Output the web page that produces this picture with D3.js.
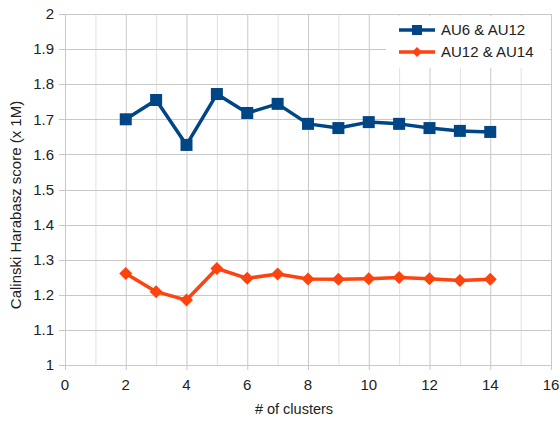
<!DOCTYPE html>
<html><head><meta charset="utf-8">
<script src="https://cdn.jsdelivr.net/npm/d3@7"></script>
<style>body{margin:0;background:#fff;}svg{display:block;font-family:"Liberation Sans",Arial,sans-serif;}</style>
</head><body>
<svg id="c" width="560" height="421"></svg>
<script>
const clusters = [2,3,4,5,6,7,8,9,10,11,12,13,14];
const au6au12 = [1.700,1.755,1.627,1.772,1.718,1.744,1.687,1.675,1.692,1.687,1.675,1.667,1.664];
const au12au14 = [1.261,1.209,1.185,1.275,1.247,1.259,1.245,1.244,1.246,1.249,1.246,1.241,1.244];
const seriesNames = ["AU6 & AU12","AU12 & AU14"];
const xTicks = [0,2,4,6,8,10,12,14,16];
const yTicks = [1,1.1,1.2,1.3,1.4,1.5,1.6,1.7,1.8,1.9,2];

const svg = d3.select("#c");
const L=65, R=551, T=14, B=365;
const x = d3.scaleLinear().domain([0,16]).range([L,R]);
const y = d3.scaleLinear().domain([1,2]).range([B,T]);

const g = svg.append("g");
g.selectAll(".vmin").data(d3.range(1,16,2)).enter().append("line")
 .attr("x1",d=>x(d)+0.5).attr("x2",d=>x(d)+0.5).attr("y1",T).attr("y2",B)
 .attr("stroke","#e0e0e0").attr("stroke-width",1);
g.selectAll(".vmaj").data(xTicks).enter().append("line")
 .attr("x1",d=>x(d)+0.5).attr("x2",d=>x(d)+0.5).attr("y1",T).attr("y2",B+5)
 .attr("stroke","#c8c8c8").attr("stroke-width",1);
g.selectAll(".h").data(yTicks).enter().append("line")
 .attr("x1",L-6).attr("x2",R).attr("y1",d=>Math.round(y(d))+0.5).attr("y2",d=>Math.round(y(d))+0.5)
 .attr("stroke","#c8c8c8").attr("stroke-width",1);

g.selectAll(".yl").data(yTicks).enter().append("text")
 .attr("x",L-11).attr("y",d=>y(d)).attr("dy","0.35em").attr("text-anchor","end")
 .attr("font-size",15).attr("fill","#222").text(d=>d3.format("")(+d.toFixed(1)));
g.selectAll(".xl").data(xTicks).enter().append("text")
 .attr("x",d=>x(d)).attr("y",B+25).attr("text-anchor","middle")
 .attr("font-size",15).attr("fill","#222").text(d=>d);

svg.append("text").attr("x",294).attr("y",414).attr("text-anchor","middle")
 .attr("font-size",14.5).attr("fill","#222").text("# of clusters");
svg.append("text").attr("transform","translate(21,205) rotate(-90)")
 .attr("text-anchor","middle").attr("font-size",15).attr("fill","#222").text("Calinski Harabasz score (x 1M)");

svg.append("rect").attr("x",386).attr("y",16).attr("width",R-387).attr("height",52).attr("fill","#fff");

const blue="#004586", orange="#ff420e";
const line = d3.line().x((d,i)=>x(clusters[i])).y(d=>y(d));
svg.append("path").attr("d",line(au6au12)).attr("fill","none").attr("stroke",blue).attr("stroke-width",3.5).attr("stroke-linejoin","round");
svg.append("path").attr("d",line(au12au14)).attr("fill","none").attr("stroke",orange).attr("stroke-width",3.5).attr("stroke-linejoin","round");
svg.selectAll(".sq").data(au6au12).enter().append("rect")
 .attr("x",(d,i)=>x(clusters[i])-6).attr("y",d=>y(d)-6).attr("width",12).attr("height",12).attr("fill",blue);
const diamond = (cx,cy,r)=>`M${cx},${cy-r}L${cx+r},${cy}L${cx},${cy+r}L${cx-r},${cy}Z`;
svg.selectAll(".dm").data(au12au14).enter().append("path")
 .attr("d",(d,i)=>diamond(x(clusters[i]),y(d),6.5)).attr("fill",orange);

const ly=[30,52];
[blue,orange].forEach((c,i)=>{
  svg.append("line").attr("x1",399).attr("x2",435).attr("y1",ly[i]).attr("y2",ly[i]).attr("stroke",c).attr("stroke-width",3.5);
  if(i===0) svg.append("rect").attr("x",412).attr("y",ly[i]-5).attr("width",10).attr("height",10).attr("fill",c);
  else svg.append("path").attr("d",diamond(417,ly[i],5)).attr("fill",c);
  svg.append("text").attr("x",441).attr("y",ly[i]).attr("dy","0.35em").attr("font-size",15).attr("fill","#222").text(seriesNames[i]);
});
</script>
</body></html>
